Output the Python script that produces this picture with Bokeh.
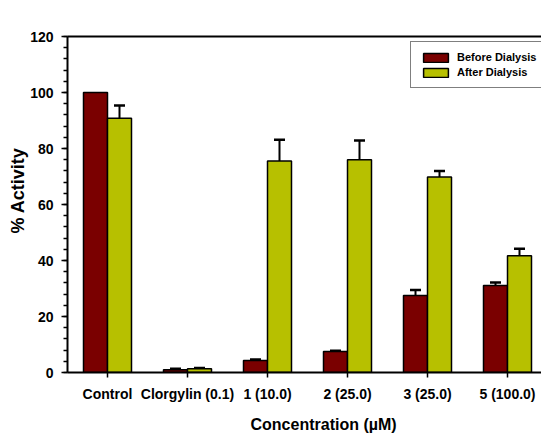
import numpy as np
from bokeh.plotting import figure
from bokeh.models import (ColumnDataSource, LinearAxis, FixedTicker, Whisker, TeeHead,
                          Legend, LegendItem, Range1d, Title)
from bokeh.embed import file_html
from bokeh.resources import INLINE

categories = ["Control", "Clorgylin (0.1)", "1 (10.0)", "2 (25.0)", "3 (25.0)", "5 (100.0)"]
before = [100, 1.0, 4.3, 7.5, 27.5, 31.1]
before_err = [0, 0.3, 0.3, 0.3, 2.0, 1.0]
after = [90.8, 1.3, 75.5, 76.0, 69.8, 41.7]
after_err = [4.6, 0.3, 7.6, 6.9, 2.2, 2.5]
y_ticks = [0, 20, 40, 60, 80, 100, 120]

RED = "#7a0000"
GREEN = "#b7c000"
FONT = "Liberation Sans"

idx = np.arange(len(categories))
src_b = ColumnDataSource(dict(x=idx - 0.15, top=before))
src_a = ColumnDataSource(dict(x=idx + 0.15, top=after))

def err_source(xs, vals, errs):
    keep = [i for i, e in enumerate(errs) if e > 0]
    return ColumnDataSource(dict(x=[xs[i] for i in keep], top=[vals[i] for i in keep],
                                 up=[vals[i] + errs[i] for i in keep]))

err_b = err_source(list(idx - 0.15), before, before_err)
err_a = err_source(list(idx + 0.15), after, after_err)

p = figure(width=541, height=435, output_backend="svg", toolbar_location=None,
           x_range=Range1d(-0.5, -0.5 + 474 / 80), y_range=Range1d(0, 120),
           min_border_left=67, min_border_right=0, min_border_top=36, min_border_bottom=63)
p.frame_width = 474
p.frame_height = 336
p.outline_line_color = None
p.grid.visible = False
p.background_fill_color = "white"
p.border_fill_color = "white"

rb = p.vbar(x="x", top="top", width=0.3, source=src_b, fill_color=RED, line_color="black", line_width=1.5)
ra = p.vbar(x="x", top="top", width=0.3, source=src_a, fill_color=GREEN, line_color="black", line_width=1.5)

for src in (err_b, err_a):
    w = Whisker(base="x", lower="top", upper="up", source=src, dimension="height",
                line_color="black", line_width=2,
                upper_head=TeeHead(size=11, line_color="black", line_width=2.5),
                lower_head=None)
    p.add_layout(w)

# axes
xa = p.xaxis[0]
xa.ticker = FixedTicker(ticks=list(idx))
xa.major_label_overrides = {int(i): c for i, c in zip(idx, categories)}
xa.minor_tick_line_color = None
xa.major_tick_out = 5
xa.major_tick_in = 0
xa.axis_line_width = 2
xa.major_tick_line_width = 1.5
xa.major_label_text_font = FONT
xa.major_label_text_font_style = "bold"
xa.major_label_text_font_size = "14px"
xa.major_label_text_color = "black"
xa.major_label_standoff = 8

xtitle = Title(text="Concentration (µM)", align="left", offset=178, standoff=9,
               vertical_align="bottom", padding=5,
               text_font=FONT, text_font_style="bold", text_font_size="16px", text_color="black")
p.add_layout(xtitle, "below")

ya = p.yaxis[0]
ya.ticker = FixedTicker(ticks=y_ticks, minor_ticks=list(range(0, 121, 4)))
ya.major_tick_out = 6
ya.major_tick_in = 0
ya.minor_tick_out = 4
ya.minor_tick_in = 0
ya.axis_line_width = 2
ya.major_tick_line_width = 1.5
ya.minor_tick_line_width = 1.5
ya.major_label_text_font = FONT
ya.major_label_text_font_style = "bold"
ya.major_label_text_font_size = "14px"
ya.major_label_text_color = "black"
ya.major_label_standoff = 8

ytitle = Title(text="% Activity", align="left", offset=139, standoff=0,
               text_font=FONT, text_font_style="bold", text_font_size="18px", text_color="black")
p.add_layout(ytitle, "left")

top_axis = LinearAxis(major_tick_line_color=None, minor_tick_line_color=None,
                      major_label_text_font_size="0px", axis_line_width=2)
top_axis.major_label_text_color = None
p.add_layout(top_axis, "above")

legend = Legend(items=[LegendItem(label="Before Dialysis", renderers=[rb]),
                       LegendItem(label="After Dialysis", renderers=[ra])],
                location=(343, 284), orientation="vertical",
                border_line_color="black", border_line_width=1,
                label_text_font=FONT, label_text_font_style="bold", label_text_font_size="11px",
                label_text_color="black",
                glyph_width=31, glyph_height=11, label_height=11, label_standoff=6,
                padding=9, spacing=3, margin=0, background_fill_alpha=1)
p.add_layout(legend, "center")

open("out.html", "w").write(file_html(p, INLINE))
